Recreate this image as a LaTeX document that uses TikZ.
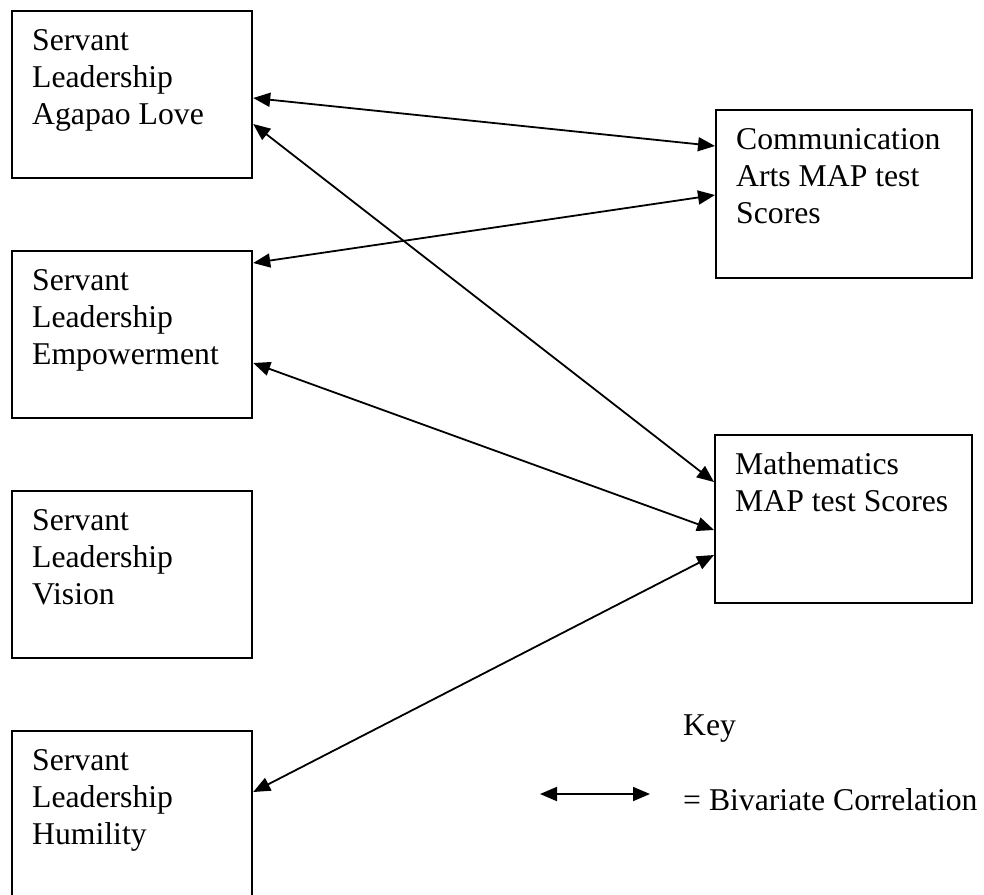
\documentclass[tikz,border=0pt]{standalone}
\usepackage{fontspec}
\setmainfont{Liberation Serif}
\usetikzlibrary{arrows.meta,calc}

\tikzset{
  varbox/.style={draw=black, line width=2.2pt, rectangle, inner sep=0pt,
    minimum width=240pt, minimum height=167pt, anchor=north west},
  boxtext/.style={anchor=north west, inner sep=0pt, align=left,
    font=\fontsize{31.7pt}{37pt}\selectfont},
  plaintext/.style={anchor=base west, inner sep=0pt,
    font=\fontsize{31.7pt}{37pt}\selectfont},
  corrtip/.tip={Triangle[length=17pt,width=14pt]},
  corr/.style={line width=1.8pt, corrtip-corrtip},
}

\begin{document}
\begin{tikzpicture}[x=1pt, y=-1pt]
  \useasboundingbox (0,0) rectangle (984,894);
  \clip (0,0) rectangle (984,894);

  % predictor boxes (left column)
  \node[varbox] (love)  at (11,10)  {};
  \node[varbox] (emp)   at (11,250) {};
  \node[varbox] (vis)   at (11,490) {};
  \node[varbox] (hum)   at (11,730) {};

  % outcome boxes (right column)
  \node[varbox, minimum width=256pt, minimum height=168pt] (comm) at (715,109) {};
  \node[varbox, minimum width=257pt, minimum height=168pt] (math) at (714,434) {};

  % box labels
  \node[boxtext] (lovet) at ($(love.north west)+(21,19)$) {Servant\\Leadership\\Agapao Love};
  \node[boxtext] (empt)  at ($(emp.north west)+(21,19)$)  {Servant\\Leadership\\Empowerment};
  \node[boxtext] (vist)  at ($(vis.north west)+(21,19)$)  {Servant\\Leadership\\Vision};
  \node[boxtext] (humt)  at ($(hum.north west)+(21,19)$)  {Servant\\Leadership\\Humility};
  \node[boxtext] (commt) at ($(comm.north west)+(21,19)$) {Communication\\Arts MAP test\\Scores};
  \node[boxtext] (matht) at ($(math.north west)+(21,18)$) {Mathematics\\MAP test Scores};

  % bivariate correlations
  \draw[corr] ($(love.north east)+(0,88)$)  -- ($(comm.north west)+(0,37)$);
  \draw[corr] ($(love.north east)+(0,114)$) -- ($(math.north west)+(0,48)$);
  \draw[corr] ($(emp.north east)+(0,13)$)   -- ($(comm.north west)+(0,86)$);
  \draw[corr] ($(emp.north east)+(0,113)$)  -- ($(math.north west)+(0,96)$);
  \draw[corr] ($(hum.north east)+(0,62)$)   -- ($(math.north west)+(0,121)$);

  % key
  \node[plaintext] (key) at (683,735) {Key};
  \coordinate (keyl) at (540,794);
  \coordinate (keyr) at (650,794);
  \draw[corr] (keyl) -- (keyr);
  \node[plaintext] (keytext) at (683,810) {= Bivariate Correlation};
\end{tikzpicture}
\end{document}
